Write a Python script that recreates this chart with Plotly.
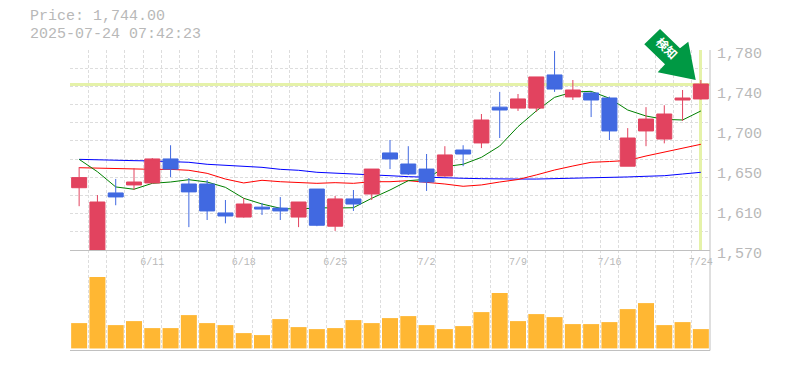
import plotly.graph_objects as go

labels = ["6/5","6/6","6/9","6/10","6/11","6/12","6/13","6/16","6/17","6/18","6/19","6/20","6/23","6/24","6/25","6/26","6/27","6/30","7/1","7/2","7/3","7/4","7/7","7/8","7/9","7/10","7/11","7/14","7/15","7/16","7/17","7/18","7/22","7/23","7/24"]
first = [1635.4,1569,1629.9,1638.3,1640.4,1665.6,1639.3,1639.3,1608.9,1604.6,1615,1614,1604.6,1634,1595,1623.6,1628.8,1671.9,1660.3,1655,1647.7,1675,1682.4,1720,1719,1719,1753.8,1730.7,1734.9,1729.6,1658,1695,1686.5,1727.5,1728.6]
high = [1657,1627.7,1644.6,1656,1666.6,1680,1645.6,1643.5,1622.5,1624.6,1619.4,1625.6,1620.4,1634,1626.7,1633,1655,1685.5,1679,1670.8,1679,1680,1712.8,1736,1733.8,1751.7,1779,1748.5,1736,1731,1698,1720,1722,1738,1748.5]
low = [1616,1569,1617,1633,1640,1646.6,1594,1601.5,1598,1604,1606.8,1601.5,1594,1595,1590,1611,1622.5,1655,1648.8,1632,1647,1658,1677,1687.6,1716,1715,1736,1727.5,1709.6,1685.5,1658,1679,1682,1705.5,1728]
last = [1646,1620.4,1625.7,1641.4,1665.6,1655,1631,1611,1605.7,1618.3,1613,1611,1620.4,1596,1623.6,1618.3,1655,1665.6,1649.8,1641.4,1669.8,1670.8,1706.5,1717,1728.6,1751.7,1739,1738,1727.5,1695,1687.6,1707.5,1712.8,1729.6,1744.3]
ma_short = [1665.2,1652.2,1636.2,1633.8,1640,1641.4,1643.8,1641.4,1635.8,1624.3,1618.3,1613.8,1612.7,1614.4,1614.1,1614.4,1624.3,1633,1642.8,1644.2,1657.5,1660,1667.3,1679.2,1699.5,1716,1730.3,1735.9,1736.6,1729.3,1717,1710.7,1707.2,1706.5,1716]
ma_mid = [1656.4,1655.8,1655.4,1654.7,1654.7,1654.7,1653.7,1650.5,1644.5,1640.4,1643.2,1641.7,1641.1,1640,1640.7,1640,1641.7,1641.7,1642.8,1641.1,1639.3,1636.9,1638.3,1641.4,1644,1648.8,1654,1658.2,1662.1,1662.9,1664,1668.7,1672.9,1677.1,1681]
ma_long = [1665.2,1664.5,1664.2,1663.8,1663.5,1662.7,1662.1,1660,1658.9,1657.5,1656.8,1654.7,1653.7,1651.6,1650.5,1649.5,1648.8,1648,1647,1646.3,1645.3,1645.3,1644.9,1644.5,1644.5,1644.5,1644.9,1644.9,1645.3,1645.9,1646.7,1647.4,1648,1649.8,1651.6]
volume = [253,713,233,273,203,203,333,253,233,153,133,293,213,193,203,283,253,303,323,233,193,223,363,553,273,343,313,243,243,263,393,453,233,263,193]
price_now = 1744.3
tick_idx = [4,9,14,19,24,29,34]
tick_text = ["6/11","6/18","6/25","7/2","7/9","7/16","7/24"]
price_ticks = [1570,1612,1654,1696,1738,1780]
price_text = ["1,570","1,610","1,650","1,700","1,740","1,780"]
title_price = "Price: 1,744.00"
title_time = "2025-07-24 07:42:23"
badge = "検知"

GREY = "#b8b8b8"
GRID = "#dddddd"
LIME = "#e5f2a9"
xs = list(range(len(labels)))
XR = [-0.5, len(labels) - 0.5]
MONO = "Liberation Mono"

def px(a):
    return (a - 70) / 640

def py(b):
    return (350 - b) / 300

fig = go.Figure()
fig.add_trace(go.Scatter(x=XR, y=[price_now, price_now], mode="lines", line=dict(color=LIME, width=3), hoverinfo="skip", zorder=0))
fig.add_trace(go.Scatter(x=[34, 34], y=[1570, 1780], mode="lines", line=dict(color=LIME, width=3), hoverinfo="skip", zorder=0))
for vals, col in ((ma_long, "#0000ff"), (ma_mid, "#ff0000"), (ma_short, "#008000")):
    fig.add_trace(go.Scatter(x=xs, y=vals, mode="lines", line=dict(color=col, width=1), hoverinfo="skip", zorder=1))
fig.add_trace(go.Candlestick(
    x=xs, open=first, high=high, low=low, close=last, whiskerwidth=0, zorder=2,
    increasing=dict(line=dict(color="#e2435f", width=1), fillcolor="#e2435f"),
    decreasing=dict(line=dict(color="#4169e1", width=1), fillcolor="#4169e1"),
))
fig.add_trace(go.Bar(x=xs, y=volume, width=0.875, marker=dict(color="#ffb733", line=dict(width=0)), xaxis="x2", yaxis="y2"))

minor_x = dict(showgrid=True, gridcolor=GRID, griddash="3px,2px", gridwidth=1, tick0=-0.5, dtick=1, ticks="")
fig.update_layout(
    width=785, height=370, margin=dict(l=70, r=75, t=50, b=20, autoexpand=False),
    paper_bgcolor="white", plot_bgcolor="white", showlegend=False, boxgap=0.18, boxgroupgap=0,
    font=dict(family=MONO, color=GREY),
    xaxis=dict(domain=[0, 1], range=XR, anchor="y", rangeslider=dict(visible=False), showgrid=False, zeroline=False,
               tickmode="array", tickvals=tick_idx, ticktext=tick_text, ticks="", ticklen=0,
               tickfont=dict(family=MONO, size=10, color=GREY), ticklabelstandoff=4, minor=minor_x),
    xaxis2=dict(domain=[0, 1], range=XR, anchor="y2", showgrid=False, zeroline=False, showticklabels=False, minor=minor_x),
    yaxis=dict(domain=[1/3, 1], range=[1570, 1780], side="right", anchor="x", showgrid=False, zeroline=False,
               tickmode="array", tickvals=price_ticks, ticktext=price_text, ticks="",
               tickfont=dict(family=MONO, size=15, color=GREY), ticklabelshift=3, ticklabelstandoff=6,
               minor=dict(showgrid=True, gridcolor=GRID, griddash="3px,2px", gridwidth=1, tick0=1570, dtick=210/11, ticks="")),
    yaxis2=dict(domain=[0, 1/3], range=[-16, 984], side="right", anchor="x2", showgrid=False, zeroline=False,
                showticklabels=False),
    annotations=[
        dict(text=title_price, xref="paper", yref="paper", x=px(30), y=py(17), xanchor="left", yanchor="middle",
             xshift=-2, showarrow=False, font=dict(family=MONO, size=15, color=GREY)),
        dict(text=title_time, xref="paper", yref="paper", x=px(30), y=py(34), xanchor="left", yanchor="middle",
             xshift=-2, showarrow=False, font=dict(family=MONO, size=15, color=GREY)),
    ],
)
pts = [(660,29),(680,48.3),(688.3,41.7),(695.7,80),(657.7,72.3),(665,64.3),(644.3,44.3)]
path = "M " + " L ".join(f"{px(a):.4f},{py(b):.4f}" for a, b in pts) + " Z"
fig.add_shape(type="path", xref="paper", yref="paper", path=path, fillcolor="#009944", line=dict(width=0), layer="above")
fig.add_shape(type="rect", xref="paper", yref="paper", x0=px(646), x1=px(686), y0=py(69), y1=py(29),
              fillcolor="rgba(0,0,0,0)", line=dict(width=0), layer="above",
              label=dict(text=badge, textangle=45, textposition="middle center",
                         font=dict(family="Noto Sans CJK JP", size=12, color="white", weight="bold")))
for x0, y0, x1, y1 in ((70, 250.5, 710, 250.5), (70, 350.5, 710, 350.5), (710, 50, 710, 350.5)):
    fig.add_shape(type="line", xref="paper", yref="paper", x0=px(x0), y0=py(y0), x1=px(x1), y1=py(y1),
                  line=dict(color="#c0c0c0", width=1), layer="above")

post = """
document.body.style.margin='0';
document.querySelectorAll('.scatterlayer .js-line').forEach(function(p){p.style.shapeRendering='crispEdges';});
"""
fig.write_html("out.html", post_script=post, config=dict(displayModeBar=False))
